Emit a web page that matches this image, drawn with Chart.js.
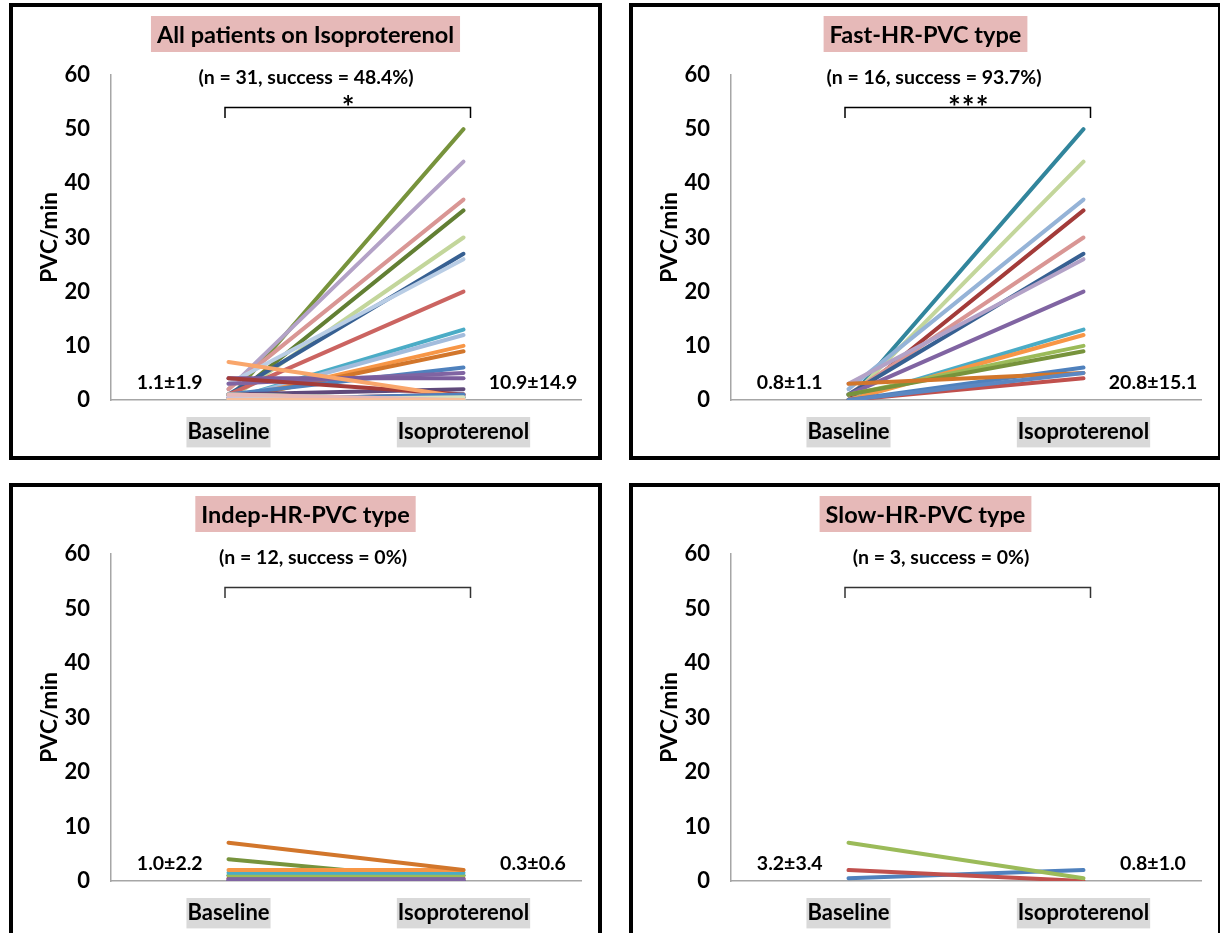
<!DOCTYPE html>
<html>
<head>
<meta charset="utf-8">
<script src="https://cdn.jsdelivr.net/npm/chart.js@4.4.1/dist/chart.umd.min.js"></script>
<style>
html, body { margin: 0; padding: 0; background: #fff; overflow: hidden; }
body { width: 1220px; height: 933px; position: relative; }
.panel { position: absolute; border: 4px solid #000; width: 585px; height: 449px; background: #fff; }
.panel canvas { display: block; }
</style>
</head>
<body>
<div class="panel" style="left:9px;top:3px"><canvas id="c0" width="585" height="449"></canvas></div>
<div class="panel" style="left:629px;top:3px"><canvas id="c1" width="585" height="449"></canvas></div>
<div class="panel" style="left:9px;top:483px"><canvas id="c2" width="585" height="449"></canvas></div>
<div class="panel" style="left:629px;top:483px"><canvas id="c3" width="585" height="449"></canvas></div>
<script>
// categories and axis
const categories = ['Baseline', 'Isoproterenol'];
const yTicks = [0, 10, 20, 30, 40, 50, 60];

// texts
const panelTitles = ['All patients on Isoproterenol', 'Fast-HR-PVC type', 'Indep-HR-PVC type', 'Slow-HR-PVC type'];
const panelSubtitles = ['(n = 31, success = 48.4%)', '(n = 16, success = 93.7%)', '(n = 12, success = 0%)', '(n = 3, success = 0%)'];
const panelStars = ['*', '***', '', ''];
const baselineStats = ['1.1±1.9', '0.8±1.1', '1.0±2.2', '3.2±3.4'];
const isoStats = ['10.9±14.9', '20.8±15.1', '0.3±0.6', '0.8±1.0'];

// PVC/min per patient
const allBaseline = [0, 2, 2, 0, 0, 1, 3, 1, 0, 0, 0, 0, 1, 3, 4, 1, 4, 7, 0, 0, 1, 0, 0.5, 0, 1, 0, 0.5, 0, 0, 1, 0];
const allIso      = [50, 44, 37, 35, 30, 27, 26, 20, 13, 12, 10, 9, 6, 5, 4, 2, 1, 0.5, 0, 0, 0, 1, 0.5, 0.5, 0, 1, 0, 0.5, 0, 0, 0];

const fastBaseline = [0, 0, 2, 0, 1, 1, 3, 1, 0, 0, 1, 1, 0, 3, 0, 0];
const fastIso      = [50, 44, 37, 35, 30, 27, 26, 20, 13, 12, 10, 9, 6, 5, 4, 5];

const indepBaseline = [4, 0, 0, 0.5, 1, 1, 1.5, 0.3, 0, 2, 7, 0];
const indepIso      = [0, 0, 0, 0.5, 1, 1, 1.5, 0.3, 0, 2, 2, 0];

const slowBaseline = [0.5, 2, 7];
const slowIso      = [2, 0, 0.5];

// line colours
const allColors = ['#77933C', '#B3A2C7', '#D99694', '#627F33', '#C3D69B', '#376092', '#B9CDE5', '#CB6461',
  '#4BACC6', '#A3BCDC', '#F79646', '#D2762B', '#4F81BD', '#8064A2', '#7A5C9C', '#604A7B', '#A33B39', '#F9A66B',
  '#31859C', '#9BBB59', '#9BBB59', '#C0504D', '#8064A2', '#4BACC6', '#93CDDD', '#4F81BD', '#CCC1DA', '#D7E4BD',
  '#FCD5B5', '#E6B9B8', '#F8BE98'];
const fastColors = ['#31859C', '#C3D69B', '#95B3D7', '#A33B39', '#D99694', '#376092', '#B3A2C7', '#8064A2',
  '#4BACC6', '#F79646', '#9BBB59', '#77933C', '#4F81BD', '#D2762B', '#C0504D', '#5B87C2'];
const indepColors = ['#77933C', '#4F81BD', '#604A7B', '#C0504D', '#31859C', '#9BBB59', '#4BACC6', '#8064A2',
  '#8064A2', '#F79646', '#D2762B', '#8064A2'];
const slowColors = ['#4F81BD', '#C0504D', '#9BBB59'];

Chart.defaults.font.family = 'Lato, "Open Sans", sans-serif';
Chart.defaults.font.weight = 'bold';
Chart.defaults.color = '#000';

const annotate = {
  id: 'annotate',
  beforeDraw(chart, args, o) {
    const ctx = chart.ctx;
    ctx.save();
    ctx.font = 'bold 23.5px Lato';
    const tw = ctx.measureText(o.title).width;
    const cx = chart.width / 2;
    ctx.fillStyle = '#E6B9B8';
    ctx.fillRect(cx - tw / 2 - 6, 9, tw + 12, 36);
    ctx.restore();
  },
  afterDraw(chart, args, o) {
    const ctx = chart.ctx;
    const x = chart.scales.x, y = chart.scales.y;
    ctx.save();
    ctx.fillStyle = '#000';
    ctx.textAlign = 'center';
    ctx.textBaseline = 'middle';
    ctx.font = 'bold 23.5px Lato';
    ctx.fillText(o.title, chart.width / 2, 28);
    ctx.font = 'bold 19.5px Lato';
    ctx.fillText(o.subtitle, o.subX, 70.5);

    // bracket
    const x0 = x.getPixelForValue(0) - 3.5, x1 = x.getPixelForValue(1) + 7;
    ctx.strokeStyle = o.bracketColor;
    ctx.lineWidth = 1.5;
    ctx.beginPath();
    ctx.moveTo(x0, 111);
    ctx.lineTo(x0, 100.5);
    ctx.lineTo(x1, 100.5);
    ctx.lineTo(x1, 111);
    ctx.stroke();

    if (o.stars) {
      ctx.font = 'bold 30px Lato';
      ctx.letterSpacing = '1px';
      const m = ctx.measureText(o.stars);
      ctx.textBaseline = 'alphabetic';
      const h = m.actualBoundingBoxAscent - m.actualBoundingBoxDescent;
      ctx.fillText(o.stars, (x0 + x1) / 2 + 1, 103 + h / 2);
      ctx.letterSpacing = '0px';
      ctx.textBaseline = 'middle';
    }

    ctx.font = 'bold 19.5px Lato';
    const ys = y.getPixelForValue(3.1);
    ctx.fillText(o.left, (chart.chartArea.left + x.getPixelForValue(0)) / 2, ys);
    ctx.fillText(o.right, chart.chartArea.right - 48, ys);
    ctx.restore();
  }
};

function makePanel(id, idx, base, iso, colors, opts) {
  const n = base.length;
  new Chart(document.getElementById(id), {
    type: 'line',
    data: {
      labels: categories,
      datasets: base.map((b, i) => ({
        data: [b, iso[i]],
        borderColor: colors[i % colors.length],
        borderWidth: 4,
        borderCapStyle: 'round',
        pointRadius: 0,
        tension: 0,
        fill: false,
        order: n - i,
      })),
    },
    options: {
      responsive: false,
      animation: false,
      events: [],
      layout: { padding: { top: opts.top, right: 17, left: 0, bottom: 0 } },
      plugins: {
        legend: { display: false },
        tooltip: { enabled: false },
        annotate: {
          title: panelTitles[idx],
          subtitle: panelSubtitles[idx],
          stars: panelStars[idx],
          left: baselineStats[idx],
          right: isoStats[idx],
          subX: opts.subX,
          bracketColor: opts.bracketColor,
        },
      },
      scales: {
        x: {
          type: 'category',
          offset: true,
          grid: { display: false, drawTicks: false },
          border: { display: true, color: '#A6A6A6', width: 1.5 },
          ticks: {
            font: { size: 22, weight: 'bold' },
            color: '#000',
            padding: 19,
            maxRotation: 0,
            autoSkip: false,
            showLabelBackdrop: true,
            backdropColor: '#D9D9D9',
            backdropPadding: { top: 2, bottom: 2, left: 1, right: 1 },
          },
          afterFit(s) { s.height = opts.xHeight; },
        },
        y: {
          min: 0,
          max: 60,
          afterBuildTicks(s) { s.ticks = yTicks.map(v => ({ value: v })); },
          grid: { display: false, drawTicks: false },
          border: { display: true, color: '#A6A6A6', width: 1.5 },
          ticks: { font: { size: 22, weight: 'bold' }, color: '#000', padding: 21 },
          title: {
            display: true,
            text: 'PVC/min',
            font: { size: 22.5, weight: 'bold' },
            color: '#000',
            padding: { top: 23.5, bottom: 0 },
          },
          afterFit(s) { s.width = 98; },
        },
      },
    },
    plugins: [annotate],
  });
}

makePanel('c0', 0, allBaseline, allIso, allColors, { top: 68, xHeight: 56, subX: 293, bracketColor: '#000' });
makePanel('c1', 1, fastBaseline, fastIso, fastColors, { top: 68, xHeight: 56, subX: 301, bracketColor: '#000' });
makePanel('c2', 2, indepBaseline, indepIso, indepColors, { top: 67, xHeight: 55, subX: 300, bracketColor: '#333' });
makePanel('c3', 3, slowBaseline, slowIso, slowColors, { top: 67, xHeight: 55, subX: 308, bracketColor: '#333' });
</script>
</body>
</html>
